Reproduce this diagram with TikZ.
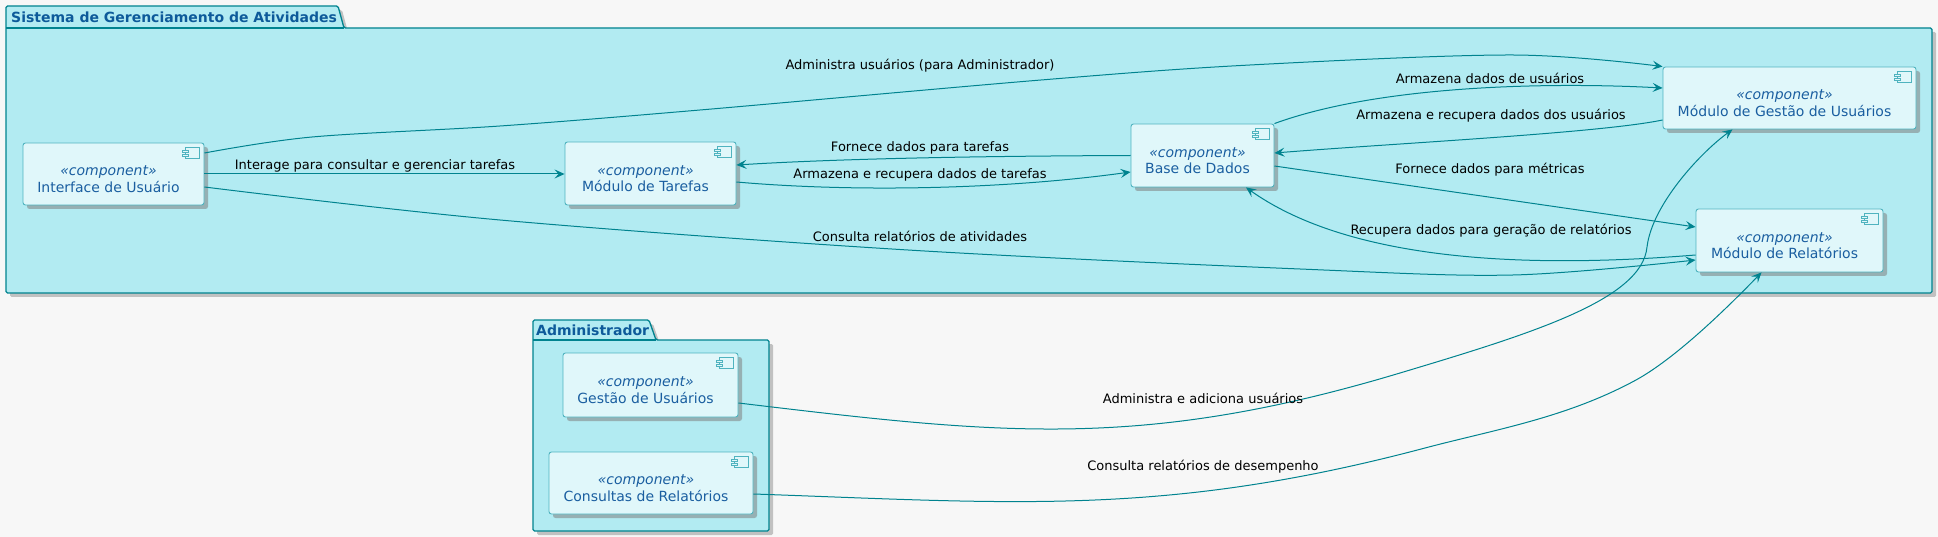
\documentclass[tikz,border=0pt]{standalone}
\usepackage{fontspec}
\setmainfont{DejaVu Sans}
\usetikzlibrary{arrows.meta,shadows,calc}
\definecolor{bg}{HTML}{F7F7F7}
\definecolor{pkgfill}{HTML}{B2EBF2}
\definecolor{pkgdraw}{HTML}{00838F}
\definecolor{nodefill}{HTML}{E0F7FA}
\definecolor{nodedraw}{HTML}{4FB3BF}
\definecolor{arrowc}{HTML}{00838F}
\definecolor{textblue}{HTML}{1A5EA0}
\definecolor{titleblue}{HTML}{0D5A9A}
\tikzset{
  comp/.style={draw=nodedraw, fill=nodefill, line width=0.9pt, rounded corners=2.5pt, inner sep=0pt,
    drop shadow={shadow xshift=4pt, shadow yshift=-4pt, fill=black!50, opacity=0.55}},
  ctext/.style={align=center, text=textblue, font=\fontsize{14}{16.5}\selectfont, inner sep=0pt},
  elabel/.style={font=\fontsize{13}{15}\selectfont, text=black, inner sep=0pt},
  conn/.style={draw=arrowc, line width=1pt, -{Stealth[length=10pt,width=9pt,inset=4pt]}},
  pkg/.style={draw=pkgdraw, fill=pkgfill, line width=1.3pt, rounded corners=1.5pt},
  pkgshadow/.style={fill=black!45, opacity=0.5, rounded corners=1.5pt},
  ptitle/.style={font=\bfseries\fontsize{14}{16}\selectfont, text=titleblue, inner sep=0pt, anchor=west},
  cicon/.style={draw=nodedraw, line width=0.8pt, fill=nodefill}
}
\newcommand{\compIcon}[1]{%
  \draw[cicon] ($(#1.north east)+(-19,5)$) rectangle ($(#1.north east)+(-5,15.5)$);
  \draw[cicon] ($(#1.north east)+(-22,7.5)$) rectangle ($(#1.north east)+(-16,10)$);
  \draw[cicon] ($(#1.north east)+(-22,11.5)$) rectangle ($(#1.north east)+(-16,14)$);
}
\begin{document}
\begin{tikzpicture}[x=1pt,y=-1pt]
\path[use as bounding box, fill=bg] (0,0) rectangle (1938,537);

% packages
\path[pkgshadow] (10,297) -- (10,10) -- (342,10) -- (348,32) -- (1936,32) -- (1936,297) -- cycle;
\path[pkg] (6,293) -- (6,6) -- (338,6) -- (344,28) -- (1932,28) -- (1932,293) -- cycle;
\draw[draw=pkgdraw, line width=1.3pt] (6,28) -- (344,28);
\node[ptitle] (t1) at (11,17.5) {Sistema de Gerenciamento de Atividades};

\path[pkgshadow] (537,535) -- (537,324) -- (653,324) -- (660,344) -- (773,344) -- (773,535) -- cycle;
\path[pkg] (533,531) -- (533,320) -- (649,320) -- (656,340) -- (769,340) -- (769,531) -- cycle;
\draw[draw=pkgdraw, line width=1.3pt] (533,340) -- (656,340);
\node[ptitle] (t2) at (536,330.5) {Administrador};

% components
\node[comp, minimum width=181pt, minimum height=62pt] (iface) at (113.5,174) {};
\node[comp, minimum width=171pt, minimum height=63pt] (tar) at (650.5,173.5) {};
\node[comp, minimum width=143pt, minimum height=63pt] (base) at (1202.5,155.5) {};
\node[comp, minimum width=253pt, minimum height=62pt] (gum) at (1789.5,98) {};
\node[comp, minimum width=187pt, minimum height=63pt] (rel) at (1789.5,240.5) {};
\node[comp, minimum width=175pt, minimum height=64pt] (gadm) at (650.5,385) {};
\node[comp, minimum width=204pt, minimum height=62pt] (cons) at (651,483) {};

\foreach \n in {iface,tar,base,gum,rel,gadm,cons}{\compIcon{\n}}

\node[ctext] (iface-t) at ([xshift=-5pt,yshift=-5pt]iface.center) {\textit{«component»}\\Interface de Usuário};
\node[ctext] (tar-t) at ([xshift=-5pt,yshift=-5pt]tar.center) {\textit{«component»}\\Módulo de Tarefas};
\node[ctext] (base-t) at ([xshift=-5pt,yshift=-5pt]base.center) {\textit{«component»}\\Base de Dados};
\node[ctext] (gum-t) at ([xshift=-5pt,yshift=-5pt]gum.center) {\textit{«component»}\\Módulo de Gestão de Usuários};
\node[ctext] (rel-t) at ([xshift=-5pt,yshift=-5pt]rel.center) {\textit{«component»}\\Módulo de Relatórios};
\node[ctext] (gadm-t) at ([xshift=-5pt,yshift=-5pt]gadm.center) {\textit{«component»}\\Gestão de Usuários};
\node[ctext] (cons-t) at ([xshift=-5pt,yshift=-5pt]cons.center) {\textit{«component»}\\Consultas de Relatórios};

% connector end points
\coordinate (e1s) at ([yshift=21pt]iface.east);
\coordinate (e3s) at ([yshift=-13pt]iface.east);
\coordinate (e3e) at ([yshift=-19.5pt]rel.west);
\coordinate (e4s) at ([yshift=-8.5pt]tar.east);
\coordinate (e4e) at ([yshift=-16.5pt]base.west);
\coordinate (e5e) at ([yshift=8.5pt]tar.east);
\coordinate (e6e) at ([yshift=10pt]gum.west);
\coordinate (e7s) at ([yshift=-22pt]gum.west);
\coordinate (e7e) at ([yshift=2.5pt]base.east);
\coordinate (e8s) at ([yshift=-10.5pt]base.east);
\coordinate (e8e) at ([yshift=13.5pt]rel.west);
\coordinate (e9s) at ([yshift=-14.5pt]rel.west);
\coordinate (e9e) at ([xshift=43.5pt]base.south);
\coordinate (e10s) at ([yshift=-18pt]gadm.east);
\coordinate (e10e) at ([xshift=-57pt]gum.south);
\coordinate (e11s) at ([yshift=-11pt]cons.east);
\coordinate (e11e) at ([xshift=-28pt]rel.south);

% connectors
\draw[conn] plot[smooth, tension=0.55] coordinates {(e1s) (312,137) (500,126) (700,110) (1041,80) (1250,65) (1513,55) (gum.north west)};
\draw[conn] (iface.east) -- (iface.east -| tar.west);
\draw[conn] plot[smooth, tension=0.55] coordinates {(e3s) (500,220) (908,250) (1300,269) (1513,275) (e3e)};
\draw[conn] (e4s) .. controls (850,192) and (1000,190) .. (e4e);
\draw[conn] (base.west) .. controls (1000,156) and (850,158) .. (e5e);
\draw[conn] (base.north east) .. controls (1380,85) and (1550,82) .. (e6e);
\draw[conn] (e7s) .. controls (1600,133) and (1400,143) .. (e7e);
\draw[conn] (e8s) -- (e8e);
\draw[conn] (e9s) .. controls (1450,275) and (1320,240) .. (e9e);
\draw[conn] (e10s) .. controls (998,434) and (1140,451) .. (1400,373)
  .. controls (1530,334) and (1642,300) .. (1647,247)
  .. controls (1652,205) and (1700,153) .. (e10e);
\draw[conn] (e11s) .. controls (1013,503) and (1165,517) .. (1425,448)
  .. controls (1495,429.5) and (1566,418) .. (1636,380)
  .. controls (1676,358) and (1727,308) .. (e11e);

% labels
\node[elabel] (l1) at (920,66) {Administra usuários (para Administrador)};
\node[elabel] (l2) at (375,166) {Interage para consultar e gerenciar tarefas};
\node[elabel] (l3) at (920,236) {Consulta relatórios de atividades};
\node[elabel] (l4) at (920,175) {Armazena e recupera dados de tarefas};
\node[elabel] (l5) at (920,148) {Fornece dados para tarefas};
\node[elabel] (l6) at (1490,78) {Armazena dados de usuários};
\node[elabel] (l7) at (1491,116) {Armazena e recupera dados dos usuários};
\node[elabel] (l8) at (1490,170) {Fornece dados para métricas};
\node[elabel] (l9) at (1491,231) {Recupera dados para geração de relatórios};
\node[elabel] (l10) at (1203,398) {Administra e adiciona usuários};
\node[elabel] (l11) at (1203,467) {Consulta relatórios de desempenho};
\end{tikzpicture}
\end{document}
